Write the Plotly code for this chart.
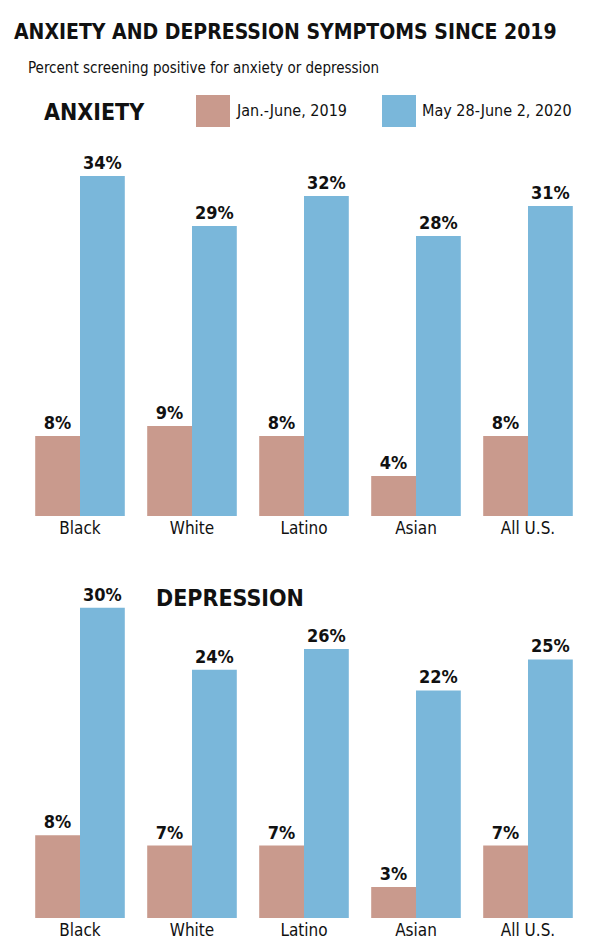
import plotly.graph_objects as go

groups = ["Black", "White", "Latino", "Asian", "All U.S."]
anx_2019 = [8, 9, 8, 4, 8]
anx_2020 = [34, 29, 32, 28, 31]
dep_2019 = [8, 7, 7, 3, 7]
dep_2020 = [30, 24, 26, 22, 25]

PINK = "#c99a8d"
BLUE = "#7ab7da"
FONT = "DejaVu Sans Condensed"
H = 941.0

def py(px):
    return 1 - px / H

fig = go.Figure()
for xa, ya, a, b in [("x", "y", anx_2019, anx_2020), ("x2", "y2", dep_2019, dep_2020)]:
    for vals, col in [(a, PINK), (b, BLUE)]:
        fig.add_trace(go.Bar(x=groups, y=vals, marker_color=col, marker_line_width=0,
                             xaxis=xa, yaxis=ya,
                             texttemplate="<b>%{y}%</b>", textposition="outside", cliponaxis=False,
                             textfont=dict(family=FONT, size=18, color="#111")))

ax = dict(domain=[16 / 600, 576 / 600], showline=False, showgrid=False, ticks="",
          tickfont=dict(family=FONT, size=17, color="#111"))
fig.update_layout(
    width=600, height=941, margin=dict(l=0, r=0, t=0, b=0),
    paper_bgcolor="white", plot_bgcolor="white", showlegend=False,
    barmode="group", bargap=0.2, bargroupgap=0,
    xaxis=ax, xaxis2=dict(ax, anchor="y2"),
    yaxis=dict(domain=[py(508), py(100)], range=[0, 40.8], visible=False),
    yaxis2=dict(domain=[py(910), py(548)], range=[0, 35], visible=False, anchor="x2"),
)

def txt(x, y, s, size, bold=True):
    fig.add_annotation(x=x / 600, y=py(y), xref="paper", yref="paper", text=f"<b>{s}</b>" if bold else s,
                       showarrow=False, xanchor="left", yanchor="middle", xshift=-2,
                       font=dict(family=FONT, size=size, color="#111"))

txt(6, 24, "ANXIETY AND DEPRESSION SYMPTOMS SINCE 2019", 21)
txt(20, 60, "Percent screening positive for anxiety or depression", 15, bold=False)
txt(36, 104, "ANXIETY", 23)
txt(148, 590, "DEPRESSION", 23)
txt(228, 103, "Jan.-June, 2019", 16, bold=False)
txt(414, 103, "May 28-June 2, 2020", 16, bold=False)
for x0, c in [(188, PINK), (374, BLUE)]:
    fig.add_shape(type="rect", xref="paper", yref="paper", x0=x0 / 600, x1=(x0 + 34) / 600,
                  y0=py(119), y1=py(87), fillcolor=c, line_width=0)

fig.write_html("out.html")
